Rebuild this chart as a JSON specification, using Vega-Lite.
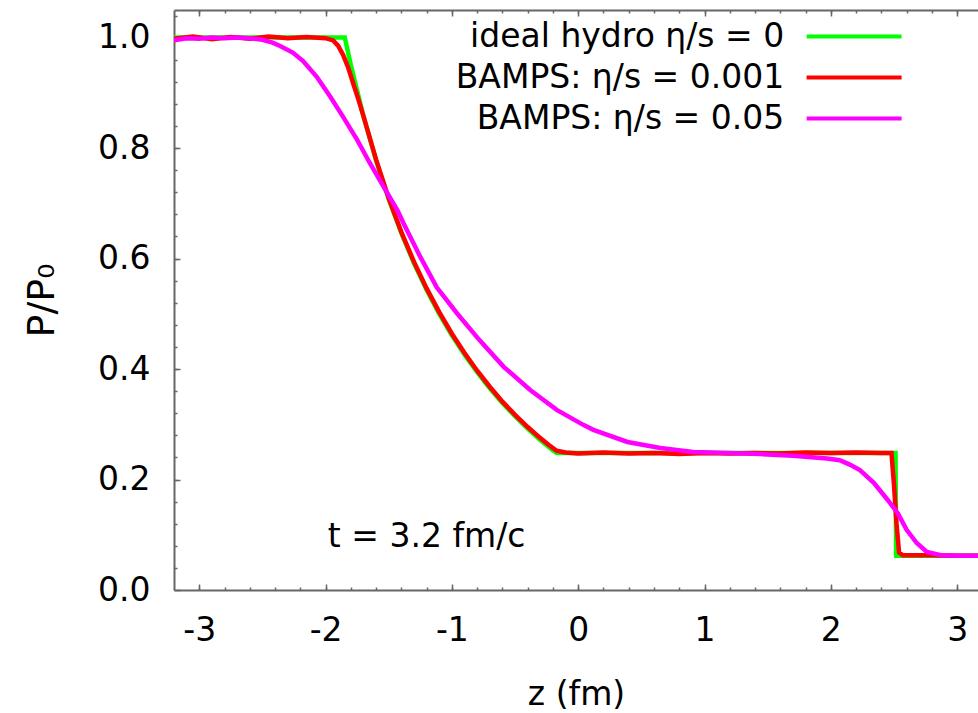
{
  "$schema": "https://vega.github.io/schema/vega-lite/v6.json",
  "width": 804,
  "height": 580,
  "autosize": "none",
  "padding": {"left": 174, "top": 10, "right": 0, "bottom": 123},
  "background": "white",
  "config": {
    "view": {"stroke": null},
    "font": "DejaVu Sans",
    "axis": {
      "domainColor": "#666666",
      "tickColor": "#666666",
      "domainWidth": 2,
      "tickWidth": 1.5,
      "labelFont": "DejaVu Sans",
      "labelFontSize": 33,
      "labelColor": "#000000",
      "titleFont": "DejaVu Sans",
      "titleFontSize": 33,
      "titleFontWeight": "normal",
      "titleColor": "#000000",
      "grid": false,
      "labelFlush": false,
      "labelOverlap": false
    }
  },
  "data": {
    "values": [
      {"series": "ideal hydro η/s = 0", "z": -3.2, "p": 1.0},
      {"series": "ideal hydro η/s = 0", "z": -1.848, "p": 1.0},
      {"series": "ideal hydro η/s = 0", "z": -1.8, "p": 0.9505},
      {"series": "ideal hydro η/s = 0", "z": -1.7, "p": 0.8574},
      {"series": "ideal hydro η/s = 0", "z": -1.6, "p": 0.7772},
      {"series": "ideal hydro η/s = 0", "z": -1.5, "p": 0.7072},
      {"series": "ideal hydro η/s = 0", "z": -1.4, "p": 0.6458},
      {"series": "ideal hydro η/s = 0", "z": -1.3, "p": 0.5915},
      {"series": "ideal hydro η/s = 0", "z": -1.2, "p": 0.5432},
      {"series": "ideal hydro η/s = 0", "z": -1.1, "p": 0.5},
      {"series": "ideal hydro η/s = 0", "z": -1.0, "p": 0.4611},
      {"series": "ideal hydro η/s = 0", "z": -0.9, "p": 0.426},
      {"series": "ideal hydro η/s = 0", "z": -0.8, "p": 0.3942},
      {"series": "ideal hydro η/s = 0", "z": -0.7, "p": 0.3652},
      {"series": "ideal hydro η/s = 0", "z": -0.6, "p": 0.3387},
      {"series": "ideal hydro η/s = 0", "z": -0.5, "p": 0.3145},
      {"series": "ideal hydro η/s = 0", "z": -0.4, "p": 0.2921},
      {"series": "ideal hydro η/s = 0", "z": -0.3, "p": 0.2716},
      {"series": "ideal hydro η/s = 0", "z": -0.2, "p": 0.2526},
      {"series": "ideal hydro η/s = 0", "z": -0.17, "p": 0.248},
      {"series": "ideal hydro η/s = 0", "z": 2.512, "p": 0.248},
      {"series": "ideal hydro η/s = 0", "z": 2.517, "p": 0.062},
      {"series": "ideal hydro η/s = 0", "z": 3.165, "p": 0.062},

      {"series": "BAMPS: η/s = 0.001", "z": -3.2, "p": 0.998},
      {"series": "BAMPS: η/s = 0.001", "z": -3.05, "p": 1.002},
      {"series": "BAMPS: η/s = 0.001", "z": -2.9, "p": 0.997},
      {"series": "BAMPS: η/s = 0.001", "z": -2.75, "p": 1.001},
      {"series": "BAMPS: η/s = 0.001", "z": -2.6, "p": 0.998},
      {"series": "BAMPS: η/s = 0.001", "z": -2.45, "p": 1.002},
      {"series": "BAMPS: η/s = 0.001", "z": -2.3, "p": 0.999},
      {"series": "BAMPS: η/s = 0.001", "z": -2.15, "p": 1.001},
      {"series": "BAMPS: η/s = 0.001", "z": -2.0, "p": 0.999},
      {"series": "BAMPS: η/s = 0.001", "z": -1.94, "p": 0.995},
      {"series": "BAMPS: η/s = 0.001", "z": -1.9, "p": 0.985},
      {"series": "BAMPS: η/s = 0.001", "z": -1.86, "p": 0.968},
      {"series": "BAMPS: η/s = 0.001", "z": -1.82, "p": 0.945},
      {"series": "BAMPS: η/s = 0.001", "z": -1.78, "p": 0.916},
      {"series": "BAMPS: η/s = 0.001", "z": -1.74, "p": 0.888},
      {"series": "BAMPS: η/s = 0.001", "z": -1.7, "p": 0.858},
      {"series": "BAMPS: η/s = 0.001", "z": -1.6, "p": 0.779},
      {"series": "BAMPS: η/s = 0.001", "z": -1.5, "p": 0.709},
      {"series": "BAMPS: η/s = 0.001", "z": -1.4, "p": 0.648},
      {"series": "BAMPS: η/s = 0.001", "z": -1.3, "p": 0.594},
      {"series": "BAMPS: η/s = 0.001", "z": -1.2, "p": 0.546},
      {"series": "BAMPS: η/s = 0.001", "z": -1.1, "p": 0.503},
      {"series": "BAMPS: η/s = 0.001", "z": -1.0, "p": 0.464},
      {"series": "BAMPS: η/s = 0.001", "z": -0.9, "p": 0.429},
      {"series": "BAMPS: η/s = 0.001", "z": -0.8, "p": 0.397},
      {"series": "BAMPS: η/s = 0.001", "z": -0.7, "p": 0.368},
      {"series": "BAMPS: η/s = 0.001", "z": -0.6, "p": 0.341},
      {"series": "BAMPS: η/s = 0.001", "z": -0.5, "p": 0.317},
      {"series": "BAMPS: η/s = 0.001", "z": -0.4, "p": 0.295},
      {"series": "BAMPS: η/s = 0.001", "z": -0.3, "p": 0.275},
      {"series": "BAMPS: η/s = 0.001", "z": -0.23, "p": 0.262},
      {"series": "BAMPS: η/s = 0.001", "z": -0.17, "p": 0.252},
      {"series": "BAMPS: η/s = 0.001", "z": -0.1, "p": 0.249},
      {"series": "BAMPS: η/s = 0.001", "z": 0.0, "p": 0.247},
      {"series": "BAMPS: η/s = 0.001", "z": 0.2, "p": 0.249},
      {"series": "BAMPS: η/s = 0.001", "z": 0.4, "p": 0.247},
      {"series": "BAMPS: η/s = 0.001", "z": 0.6, "p": 0.248},
      {"series": "BAMPS: η/s = 0.001", "z": 0.8, "p": 0.246},
      {"series": "BAMPS: η/s = 0.001", "z": 1.0, "p": 0.248},
      {"series": "BAMPS: η/s = 0.001", "z": 1.2, "p": 0.247},
      {"series": "BAMPS: η/s = 0.001", "z": 1.4, "p": 0.248},
      {"series": "BAMPS: η/s = 0.001", "z": 1.6, "p": 0.247},
      {"series": "BAMPS: η/s = 0.001", "z": 1.8, "p": 0.249},
      {"series": "BAMPS: η/s = 0.001", "z": 2.0, "p": 0.248},
      {"series": "BAMPS: η/s = 0.001", "z": 2.2, "p": 0.249},
      {"series": "BAMPS: η/s = 0.001", "z": 2.4, "p": 0.248},
      {"series": "BAMPS: η/s = 0.001", "z": 2.48, "p": 0.248},
      {"series": "BAMPS: η/s = 0.001", "z": 2.5, "p": 0.19},
      {"series": "BAMPS: η/s = 0.001", "z": 2.52, "p": 0.12},
      {"series": "BAMPS: η/s = 0.001", "z": 2.54, "p": 0.068},
      {"series": "BAMPS: η/s = 0.001", "z": 2.57, "p": 0.063},
      {"series": "BAMPS: η/s = 0.001", "z": 2.8, "p": 0.063},
      {"series": "BAMPS: η/s = 0.001", "z": 3.0, "p": 0.062},
      {"series": "BAMPS: η/s = 0.001", "z": 3.165, "p": 0.062},

      {"series": "BAMPS: η/s = 0.05", "z": -3.2, "p": 0.995},
      {"series": "BAMPS: η/s = 0.05", "z": -3.1, "p": 0.999},
      {"series": "BAMPS: η/s = 0.05", "z": -3.0, "p": 0.998},
      {"series": "BAMPS: η/s = 0.05", "z": -2.9, "p": 1.0},
      {"series": "BAMPS: η/s = 0.05", "z": -2.8, "p": 0.999},
      {"series": "BAMPS: η/s = 0.05", "z": -2.7, "p": 1.0},
      {"series": "BAMPS: η/s = 0.05", "z": -2.6, "p": 0.999},
      {"series": "BAMPS: η/s = 0.05", "z": -2.5, "p": 0.996},
      {"series": "BAMPS: η/s = 0.05", "z": -2.42, "p": 0.991},
      {"series": "BAMPS: η/s = 0.05", "z": -2.36, "p": 0.985},
      {"series": "BAMPS: η/s = 0.05", "z": -2.26, "p": 0.973},
      {"series": "BAMPS: η/s = 0.05", "z": -2.18, "p": 0.958},
      {"series": "BAMPS: η/s = 0.05", "z": -2.07, "p": 0.929},
      {"series": "BAMPS: η/s = 0.05", "z": -1.96, "p": 0.892},
      {"series": "BAMPS: η/s = 0.05", "z": -1.86, "p": 0.856},
      {"series": "BAMPS: η/s = 0.05", "z": -1.75, "p": 0.815},
      {"series": "BAMPS: η/s = 0.05", "z": -1.65, "p": 0.773},
      {"series": "BAMPS: η/s = 0.05", "z": -1.54, "p": 0.73},
      {"series": "BAMPS: η/s = 0.05", "z": -1.43, "p": 0.687},
      {"series": "BAMPS: η/s = 0.05", "z": -1.385, "p": 0.665},
      {"series": "BAMPS: η/s = 0.05", "z": -1.25, "p": 0.603},
      {"series": "BAMPS: η/s = 0.05", "z": -1.12, "p": 0.548},
      {"series": "BAMPS: η/s = 0.05", "z": -0.96, "p": 0.501},
      {"series": "BAMPS: η/s = 0.05", "z": -0.78, "p": 0.452},
      {"series": "BAMPS: η/s = 0.05", "z": -0.59, "p": 0.404},
      {"series": "BAMPS: η/s = 0.05", "z": -0.38, "p": 0.362},
      {"series": "BAMPS: η/s = 0.05", "z": -0.17, "p": 0.326},
      {"series": "BAMPS: η/s = 0.05", "z": 0.04, "p": 0.299},
      {"series": "BAMPS: η/s = 0.05", "z": 0.12, "p": 0.29},
      {"series": "BAMPS: η/s = 0.05", "z": 0.39, "p": 0.268},
      {"series": "BAMPS: η/s = 0.05", "z": 0.65, "p": 0.257},
      {"series": "BAMPS: η/s = 0.05", "z": 0.91, "p": 0.25},
      {"series": "BAMPS: η/s = 0.05", "z": 1.18, "p": 0.248},
      {"series": "BAMPS: η/s = 0.05", "z": 1.44, "p": 0.246},
      {"series": "BAMPS: η/s = 0.05", "z": 1.7, "p": 0.243},
      {"series": "BAMPS: η/s = 0.05", "z": 1.97, "p": 0.238},
      {"series": "BAMPS: η/s = 0.05", "z": 2.07, "p": 0.235},
      {"series": "BAMPS: η/s = 0.05", "z": 2.15, "p": 0.227},
      {"series": "BAMPS: η/s = 0.05", "z": 2.23, "p": 0.217},
      {"series": "BAMPS: η/s = 0.05", "z": 2.34, "p": 0.194},
      {"series": "BAMPS: η/s = 0.05", "z": 2.45, "p": 0.163},
      {"series": "BAMPS: η/s = 0.05", "z": 2.53, "p": 0.139},
      {"series": "BAMPS: η/s = 0.05", "z": 2.6, "p": 0.109},
      {"series": "BAMPS: η/s = 0.05", "z": 2.68, "p": 0.085},
      {"series": "BAMPS: η/s = 0.05", "z": 2.76, "p": 0.069},
      {"series": "BAMPS: η/s = 0.05", "z": 2.87, "p": 0.063},
      {"series": "BAMPS: η/s = 0.05", "z": 3.0, "p": 0.062},
      {"series": "BAMPS: η/s = 0.05", "z": 3.165, "p": 0.062}
    ]
  },
  "layer": [
    {
      "transform": [{"filter": "datum.series === 'ideal hydro η/s = 0'"}],
      "mark": {"type": "line", "strokeWidth": 4.5, "clip": true},
      "encoding": {
        "x": {"field": "z", "type": "quantitative",
              "scale": {"domain": [-3.2, 3.165], "nice": false, "zero": false},
              "axis": {"orient": "bottom", "values": [-3, -2, -1, 0, 1, 2, 3], "tickSize": -6,
                       "labelPadding": 30, "title": "z (fm)", "titlePadding": 31,
                       "labelExpr": "datum.value < 0 ? '-' + abs(datum.value) : '' + datum.value"}},
        "y": {"field": "p", "type": "quantitative",
              "scale": {"domain": [0, 1.05], "nice": false, "zero": false},
              "axis": {"orient": "left", "values": [0, 0.2, 0.4, 0.6, 0.8, 1.0], "format": ".1f",
                       "tickSize": -6, "labelPadding": 30, "title": "P/P₀", "titlePadding": 36,
                       "titleFontSize": 38}},
        "color": {"field": "series", "type": "nominal",
                  "scale": {"domain": ["ideal hydro η/s = 0", "BAMPS: η/s = 0.001", "BAMPS: η/s = 0.05"],
                            "range": ["#00ff00", "#ff0000", "#ff00ff"]},
                  "legend": {"orient": "none", "legendX": 663.6, "legendY": 10.1, "title": null,
                             "labelAlign": "right", "labelOffset": -86.4, "labelBaseline": "middle",
                             "symbolType": "M-4,0L4,0", "symbolSize": 564, "symbolStrokeWidth": 4,
                             "symbolFillColor": "transparent",
                             "labelFont": "DejaVu Sans", "labelFontSize": 33, "labelColor": "#000000",
                             "labelLimit": 600, "rowPadding": 7, "padding": 0}}
      }
    },
    {
      "transform": [{"filter": "datum.series === 'BAMPS: η/s = 0.001'"}],
      "mark": {"type": "line", "strokeWidth": 4.5, "clip": true},
      "encoding": {
        "x": {"field": "z", "type": "quantitative",
              "scale": {"domain": [-3.2, 3.165], "nice": false, "zero": false},
              "axis": {"orient": "bottom", "values": [-3, -2.8, -2.6, -2.4, -2.2, -2, -1.8, -1.6, -1.4, -1.2, -1, -0.8, -0.6, -0.4, -0.2, 0, 0.2, 0.4, 0.6, 0.8, 1, 1.2, 1.4, 1.6, 1.8, 2, 2.2, 2.4, 2.6, 2.8, 3],
                       "tickSize": -3, "labels": false, "domain": false, "title": null}},
        "y": {"field": "p", "type": "quantitative",
              "scale": {"domain": [0, 1.05], "nice": false, "zero": false},
              "axis": {"orient": "left", "values": [0.04, 0.08, 0.12, 0.16, 0.2, 0.24, 0.28, 0.32, 0.36, 0.4, 0.44, 0.48, 0.52, 0.56, 0.6, 0.64, 0.68, 0.72, 0.76, 0.8, 0.84, 0.88, 0.92, 0.96, 1.0, 1.04],
                       "tickSize": -3, "labels": false, "domain": false, "title": null}},
        "color": {"field": "series", "type": "nominal",
                  "scale": {"domain": ["ideal hydro η/s = 0", "BAMPS: η/s = 0.001", "BAMPS: η/s = 0.05"],
                            "range": ["#00ff00", "#ff0000", "#ff00ff"]},
                  "legend": {"orient": "none", "legendX": 663.6, "legendY": 10.1, "title": null,
                             "labelAlign": "right", "labelOffset": -86.4, "labelBaseline": "middle",
                             "symbolType": "M-4,0L4,0", "symbolSize": 564, "symbolStrokeWidth": 4,
                             "symbolFillColor": "transparent",
                             "labelFont": "DejaVu Sans", "labelFontSize": 33, "labelColor": "#000000",
                             "labelLimit": 600, "rowPadding": 7, "padding": 0}}
      }
    },
    {
      "transform": [{"filter": "datum.series === 'BAMPS: η/s = 0.05'"}],
      "mark": {"type": "line", "strokeWidth": 4.5, "clip": true},
      "encoding": {
        "x": {"field": "z", "type": "quantitative",
              "scale": {"domain": [-3.2, 3.165], "nice": false, "zero": false},
              "axis": {"orient": "top", "values": [-3, -2, -1, 0, 1, 2, 3], "tickSize": -6,
                       "labels": false, "domain": true, "title": null}},
        "y": {"field": "p", "type": "quantitative",
              "scale": {"domain": [0, 1.05], "nice": false, "zero": false},
              "axis": null},
        "color": {"field": "series", "type": "nominal",
                  "scale": {"domain": ["ideal hydro η/s = 0", "BAMPS: η/s = 0.001", "BAMPS: η/s = 0.05"],
                            "range": ["#00ff00", "#ff0000", "#ff00ff"]},
                  "legend": {"orient": "none", "legendX": 663.6, "legendY": 10.1, "title": null,
                             "labelAlign": "right", "labelOffset": -86.4, "labelBaseline": "middle",
                             "symbolType": "M-4,0L4,0", "symbolSize": 564, "symbolStrokeWidth": 4,
                             "symbolFillColor": "transparent",
                             "labelFont": "DejaVu Sans", "labelFontSize": 33, "labelColor": "#000000",
                             "labelLimit": 600, "rowPadding": 7, "padding": 0}}
      }
    },
    {
      "data": {"values": [{"label": "t = 3.2 fm/c"}]},
      "mark": {"type": "text", "font": "DejaVu Sans", "fontSize": 33,
               "align": "center", "baseline": "middle", "color": "#000000"},
      "encoding": {
        "text": {"field": "label"},
        "x": {"datum": -1.2, "type": "quantitative",
              "scale": {"domain": [-3.2, 3.165], "nice": false, "zero": false},
              "axis": {"orient": "top", "values": [-3, -2.8, -2.6, -2.4, -2.2, -2, -1.8, -1.6, -1.4, -1.2, -1, -0.8, -0.6, -0.4, -0.2, 0, 0.2, 0.4, 0.6, 0.8, 1, 1.2, 1.4, 1.6, 1.8, 2, 2.2, 2.4, 2.6, 2.8, 3],
                       "tickSize": -3, "labels": false, "domain": false, "title": null}},
        "y": {"datum": 0.096, "type": "quantitative",
              "scale": {"domain": [0, 1.05], "nice": false, "zero": false},
              "axis": null}
      }
    }
  ],
  "resolve": {"axis": {"x": "independent", "y": "independent"}}
}
